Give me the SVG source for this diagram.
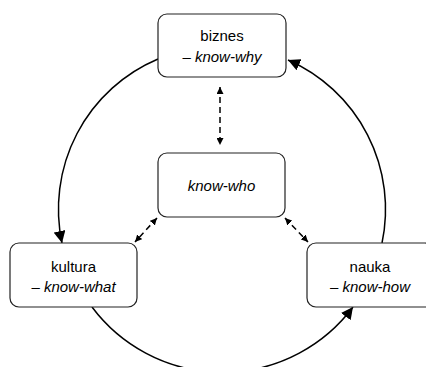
<svg xmlns="http://www.w3.org/2000/svg" width="426" height="367" viewBox="0 0 426 367">
<defs>
<style>
.box{fill:#fff;stroke:#222;stroke-width:1.2}
.t{font-family:"Liberation Sans",Arial,sans-serif;font-size:15px;fill:#000;text-anchor:middle}
.i{font-style:italic}
.arc{fill:none;stroke:#000;stroke-width:1.5}
.dash{fill:none;stroke:#000;stroke-width:1.5;stroke-dasharray:6 4}
</style>
<marker id="big" viewBox="0 0 12 12" refX="12" refY="6" markerWidth="12" markerHeight="12" markerUnits="userSpaceOnUse" orient="auto">
<path d="M0,0 L12,6 L0,12 z" fill="#000"/>
</marker>
<marker id="small" viewBox="0 0 7 7" refX="7" refY="3.5" markerWidth="7" markerHeight="7" markerUnits="userSpaceOnUse" orient="auto-start-reverse">
<path d="M0,0 L7,3.5 L0,7 z" fill="#000"/>
</marker>
</defs>
<g id="connectors">
<path class="arc" d="M158,59 A163,163 0 0,0 62,243" marker-end="url(#big)"/>
<path class="arc" d="M92,307 A163,163 0 0,0 353,307" marker-end="url(#big)"/>
<path class="arc" d="M382,243 A163,163 0 0,0 288,60" marker-end="url(#big)"/>
<path class="dash" d="M220,87 L220,145" marker-start="url(#small)" marker-end="url(#small)"/>
<path class="dash" d="M157,218 L135,242" marker-start="url(#small)" marker-end="url(#small)"/>
<path class="dash" d="M285,218 L308,242" marker-start="url(#small)" marker-end="url(#small)"/>
</g>
<g id="biznes">
<rect class="box" x="158" y="14" width="128" height="63" rx="9"/>
<text class="t" x="222" y="41">biznes</text>
<text class="t" x="222" y="62">– <tspan class="i">know-why</tspan></text>
</g>
<g id="know-who">
<rect class="box" x="158" y="153" width="127" height="64" rx="9"/>
<text class="t i" x="221.5" y="191">know-who</text>
</g>
<g id="kultura">
<rect class="box" x="10" y="243" width="127" height="64" rx="9"/>
<text class="t" x="73.5" y="272">kultura</text>
<text class="t" x="73.5" y="292">– <tspan class="i">know-what</tspan></text>
</g>
<g id="nauka">
<rect class="box" x="307" y="243" width="127" height="64" rx="9"/>
<text class="t" x="370" y="272">nauka</text>
<text class="t" x="370" y="292">– <tspan class="i">know-how</tspan></text>
</g>
</svg>
